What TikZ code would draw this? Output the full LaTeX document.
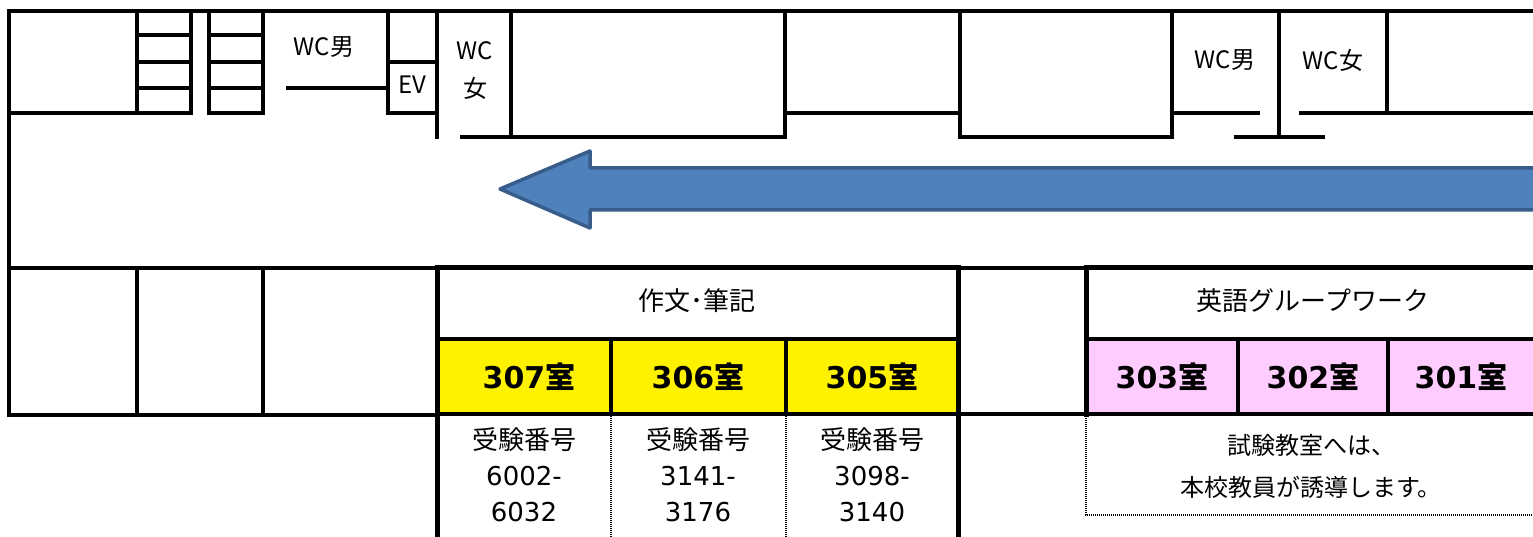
\documentclass[tikz,border=0pt]{standalone}
\usepackage{fontspec}
\setmainfont{Noto Sans CJK JP}
\newfontfamily\digitfont{DejaVu Sans}
\usetikzlibrary{positioning}
\definecolor{arrowblue}{HTML}{4F81BD}
\definecolor{arrowedge}{HTML}{385D8A}
\definecolor{roompink}{HTML}{FFCCFF}
\begin{document}
\begin{tikzpicture}[x=1pt, y=-1pt,
	wall/.style={line width=3.2pt, line cap=rect},
	frame/.style={line width=5pt, line cap=rect},
	cellline/.style={line width=4pt},
	dots/.style={line width=2pt, dash pattern=on 1pt off 1pt},
	sign/.style={inner sep=0pt, font=\fontsize{24}{38}\selectfont, align=center},
	head/.style={inner sep=0pt, font=\fontsize{26}{26}\selectfont},
	room/.style={inner sep=0pt, font=\fontsize{30}{30}\selectfont\bfseries},
	num/.style={inner sep=0pt, font=\fontsize{26}{36}\selectfont, align=center}]
	\useasboundingbox (0,0) rectangle (1533,537);
	\clip (0,0) rectangle (1533,537);
	
	\fill[yellow] (437,339) rectangle (958,414);
	\fill[roompink] (1086,339) rectangle (1545,414);
	
	\draw[wall] (9,11) -- (1545,11);
	\draw[wall] (9,11) -- (9,415);
	\draw[wall] (137,11) -- (137,113);
	\draw[wall] (9,113) -- (191,113) -- (191,11);
	\draw[wall] (209,11) -- (209,113) -- (263,113) -- (263,11);
	\foreach \y in {35,62,88} {
		\draw[wall] (137,\y) -- (191,\y);
		\draw[wall] (209,\y) -- (263,\y);
	}
	\draw[wall] (288,88) -- (388,88);
	\draw[wall] (388,11) -- (388,113) -- (437,113);
	\draw[wall] (388,62) -- (437,62);
	\draw[wall] (437,11) -- (437,137);
	\draw[wall] (511,11) -- (511,137);
	\draw[wall] (462,137) -- (785,137) -- (785,11);
	\draw[wall] (785,113) -- (960,113);
	\draw[wall] (960,11) -- (960,137) -- (1172,137) -- (1172,11);
	\draw[wall] (1172,113) -- (1258,113);
	\draw[wall] (1236,137) -- (1323,137);
	\draw[wall] (1279,11) -- (1279,137);
	\draw[wall] (1301,113) -- (1545,113);
	\draw[wall] (1387,11) -- (1387,113);
	
	\draw[wall] (9,268) -- (437,268);
	\draw[wall] (9,415) -- (437,415);
	\draw[wall] (137,268) -- (137,415);
	\draw[wall] (263,268) -- (263,415);
	\draw[wall] (958,268) -- (1086,268);
	\draw[wall] (958,414) -- (1086,414);
	
	\draw[arrowedge, fill=arrowblue, line width=3.5pt, line join=round]
		(500,189) -- (590,151) -- (590,168) -- (1550,168) -- (1550,210)
		-- (590,210) -- (590,228) -- cycle;
	
	\draw[wall] (437,339) -- (958,339);
	\draw[cellline] (611,339) -- (611,414);
	\draw[cellline] (786,339) -- (786,414);
	\draw[cellline] (437,414) -- (958,414);
	\draw[frame] (437,545) -- (437,268) -- (958,268) -- (958,545);
	\draw[dots] (611,416) -- (611,545);
	\draw[dots] (786,416) -- (786,545);
	
	\draw[wall] (1086,339) -- (1545,339);
	\draw[cellline] (1238,339) -- (1238,414);
	\draw[cellline] (1388,339) -- (1388,414);
	\draw[cellline] (1086,414) -- (1545,414);
	\draw[frame] (1086,414) -- (1086,268) -- (1545,268);
	\draw[dots] (1086,416) -- (1086,515) -- (1545,515);
	
	\node[sign] (wcm1) at (324,47) {WC男};
	\node[sign] (ev) at (412,85) {EV};
	\node[sign] (wcf1) at (475,71) {WC\\女};
	\node[sign] (wcm2) at (1225,60) {WC男};
	\node[sign] (wcf2) at (1333,60) {WC女};
	
	\node[head] (essay) at (697,301) {作文･筆記};
	\node[head] (english) at (1313,301) {英語グループワーク};
	
	\node[room] (r307) at (529,377) {{\digitfont 307}室};
	\node[room] (r306) at (698,377) {{\digitfont 306}室};
	\node[room] (r305) at (872,377) {{\digitfont 305}室};
	\node[room] (r303) at (1162,377) {{\digitfont 303}室};
	\node[room] (r302) at (1313,377) {{\digitfont 302}室};
	\node[room] (r301) at (1461,377) {{\digitfont 301}室};
	
	\node[num] (n307) at (524,475) {受験番号\\{\digitfont 6002-}\\{\digitfont 6032}};
	\node[num] (n306) at (698,475) {受験番号\\{\digitfont 3141-}\\{\digitfont 3176}};
	\node[num] (n305) at (872,475) {受験番号\\{\digitfont 3098-}\\{\digitfont 3140}};
	\node[sign, font=\fontsize{24}{42}\selectfont] (guide) at (1311,466) {試験教室へは、\\本校教員が誘導します。};
\end{tikzpicture}
\end{document}
